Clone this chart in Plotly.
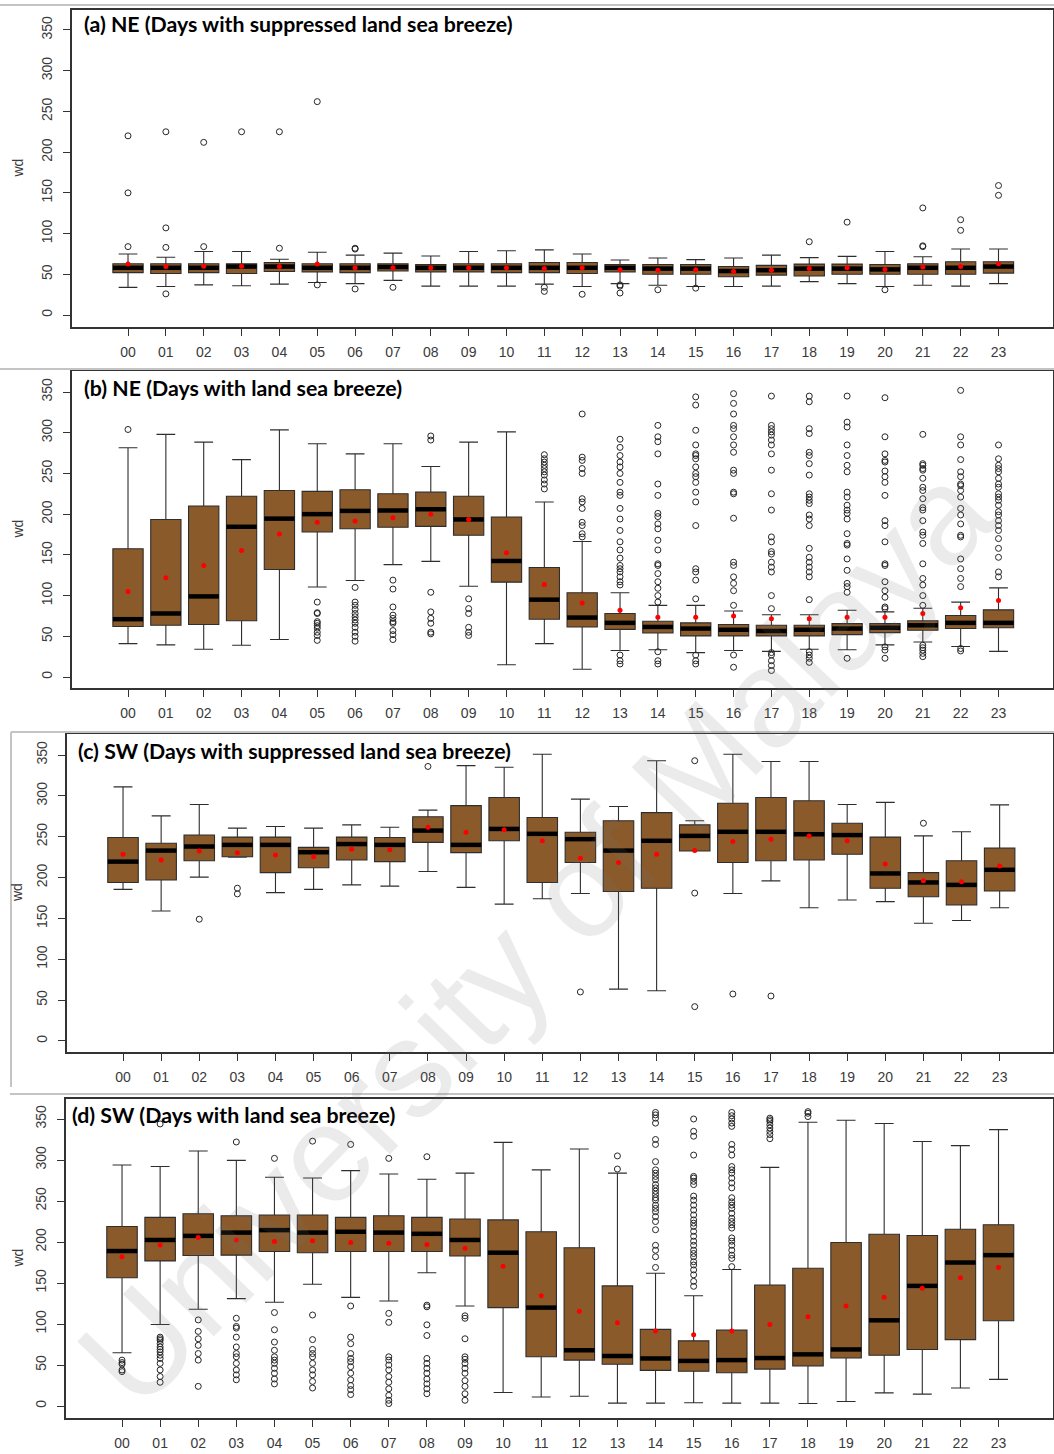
import plotly.graph_objects as go

HOURS = [f"{h:02d}" for h in range(24)]
POS = list(range(24))

# ---------------- (a) NE, suppressed land sea breeze ----------------
a_q1 = [52, 51, 52, 51, 53.5, 53, 52, 54, 53, 53, 52, 52, 51, 53, 50, 50, 47, 49, 48, 50, 50, 50, 50, 51.5]
a_med = [58, 58, 58, 59.5, 59.5, 58, 58, 59, 58, 58, 58, 58, 58, 58, 57, 57, 54, 55, 57, 57, 56, 58, 58, 59.5]
a_q3 = [63, 63, 63, 63, 64.5, 63, 63, 63, 62, 63, 63, 64.5, 64.5, 62, 62, 62, 59.5, 61, 62.5, 62.5, 62, 63, 65.5, 65.5]
a_lo = [34, 35, 37, 36, 38, 40, 38.5, 42.5, 35.5, 35.5, 35.5, 38, 35, 38.5, 36.5, 35, 35, 35.5, 41, 38.5, 35, 36.5, 35.5, 38.5]
a_hi = [75, 71, 78, 78, 68.5, 77, 73.5, 76, 72.5, 78, 79, 80, 75, 67.5, 70, 68, 70, 73.5, 70.5, 72, 78, 71.5, 81, 81]
a_mean = [62.5, 59.5, 60, 60, 59.5, 62.5, 58, 58, 58, 58, 58, 57, 58, 55.5, 55, 55.5, 53.5, 55, 57, 58, 56, 59, 59.5, 63]
a_out = [
    [220, 150, 84], [225, 107, 83, 26], [212, 84], [225], [225, 82], [262, 37],
    [82, 81, 32], [34], [], [], [], [34, 29], [25.5], [37, 35.5, 27], [31], [33],
    [], [], [90], [114], [31], [131.5, 85, 84], [117, 104], [159, 147],
]

# ---------------- (b) NE, land sea breeze ----------------
b_q1 = [62, 63.5, 64.5, 69, 132, 178, 182, 184, 185, 174, 116.5, 71, 61.5, 58.5, 54, 50.5, 50.5, 50.5, 50.5, 52, 54.5, 57.5, 59.5, 60.5]
b_med = [71, 78, 99, 184.5, 194.5, 200, 204, 204.5, 206, 193.5, 142.5, 95, 73, 66.5, 61.5, 59.5, 58, 56.5, 58, 59.5, 60.5, 63.5, 66.5, 66.5]
b_q3 = [157.5, 193.5, 210, 222, 229, 228, 230, 225, 227, 222, 196.5, 134.5, 103.5, 78, 68.5, 66.5, 64.5, 63.5, 63.5, 65.5, 65.5, 69, 75.5, 82.5]
b_lo = [41, 39.5, 34, 39, 46, 110.5, 118.5, 138, 142, 111.5, 15, 41, 9.5, 32.5, 33.5, 30, 32.5, 31.5, 34, 33.5, 39.5, 43, 37.5, 31.5]
b_hi = [281.5, 298, 288.5, 267, 303.5, 286.5, 274, 286.5, 258.5, 288.5, 301, 215, 166.5, 103.5, 88, 88, 81, 76.5, 76.5, 82, 80, 84.5, 92, 109.5]
b_mean = [105, 122, 137, 155.5, 175.5, 190, 191.5, 195.5, 200, 193.5, 152.5, 113.5, 91, 82, 73.5, 73.5, 75, 71.5, 71.5, 73.5, 73.5, 78, 85, 94]
b_out = [
    [304], [], [], [], [],
    [92, 79, 78, 68, 66, 63, 60, 55, 51, 45],
    [110, 92, 88, 83, 78, 74, 70, 66, 61, 55, 50, 44],
    [119, 108, 86, 76, 72, 68, 66, 57, 52, 46],
    [296, 291, 104, 80, 72, 66, 55, 53],
    [96, 84, 78, 61, 55, 51],
    [],
    [273, 268, 264, 260, 256, 252, 248, 242, 237, 231],
    [323, 270, 266, 256, 250, 219, 215, 207, 190, 186, 176, 172],
    [292, 282, 272, 264, 258, 250, 239, 227, 223, 207, 194, 180, 166, 156, 146, 137, 133, 129, 123, 117, 113, 27, 20, 16],
    [309, 295, 289, 274, 237, 223, 201, 197, 188, 182, 168, 156, 139, 137, 127, 117, 109, 100, 92, 31, 20, 16],
    [344, 334, 303, 285, 274, 272, 268, 258, 250, 246, 239, 227, 215, 186, 133, 129, 119, 96, 27, 20, 16],
    [348, 336, 323, 309, 305, 295, 285, 276, 254, 250, 227, 225, 195, 141, 137, 123, 115, 106, 88, 27, 12],
    [345, 309, 305, 301, 297, 291, 285, 274, 254, 225, 205, 172, 166, 154, 151, 141, 135, 129, 100, 84, 30, 27, 20, 14, 8],
    [345, 338, 305, 299, 276, 272, 262, 248, 225, 221, 217, 213, 199, 194, 186, 158, 147, 141, 135, 129, 123, 95, 31, 27, 23, 18],
    [345, 313, 307, 285, 272, 260, 252, 227, 221, 211, 205, 201, 194, 176, 164, 162, 145, 131, 115, 111, 104, 23],
    [343, 295, 274, 266, 264, 253, 246, 239, 223, 192, 186, 166, 139, 137, 117, 106, 98, 86, 84, 37, 33, 23],
    [298, 262, 260, 256, 254, 244, 233, 229, 219, 208, 205, 192, 178, 174, 164, 139, 121, 113, 100, 88, 39, 36, 33, 29, 25],
    [352, 295, 285, 267, 252, 246, 237, 235, 229, 221, 207, 199, 188, 174, 172, 145, 133, 121, 111, 35, 32],
    [285, 268, 260, 256, 252, 244, 237, 233, 225, 221, 217, 211, 203, 199, 192, 186, 180, 170, 158, 147, 129, 123],
]

# ---------------- (c) SW, suppressed land sea breeze ----------------
c_q1 = [194, 197, 220.5, 225.5, 206, 212, 221.5, 219.5, 243, 230.5, 245, 194, 218.5, 183, 187, 232.5, 218.5, 220.5, 221.5, 228.5, 187, 176.5, 166.5, 183.5]
c_med = [219.5, 233, 238, 240, 240, 231, 241, 240, 257.5, 240, 259.5, 253.5, 247, 233, 245, 251, 256, 256, 253, 252, 205, 194, 191, 209.5]
c_q3 = [249, 242, 252, 249.5, 249.5, 237, 249.5, 249, 274.5, 288, 298, 273.5, 255.5, 269.5, 279.5, 264.5, 291, 298, 294, 266.5, 249.5, 206, 220.5, 236]
c_lo = [185.5, 159, 200.5, 225, 181.5, 185.5, 191, 189.5, 207.5, 188, 167.5, 174, 180.5, 63.5, 61.5, 232.5, 180.5, 196, 163, 172.5, 170.5, 144, 147.5, 163]
c_hi = [311, 275.5, 289.5, 260.5, 262.5, 260.5, 264.5, 261.5, 282.5, 337, 335, 351, 296, 287, 343, 269.5, 351, 342, 342, 289.5, 292, 251, 256, 289]
c_mean = [228.5, 221.5, 232.5, 230.5, 227.5, 225.5, 234.5, 234, 261.5, 255.5, 258.5, 245, 223.5, 218.5, 228.5, 233, 244, 247, 251, 245, 216.5, 196, 195, 214]
c_out = [
    [], [], [149], [187, 180], [], [], [], [], [336], [], [], [], [60], [], [],
    [343, 181, 42], [57.5], [55], [], [], [], [266.5], [], [],
]

# ---------------- (d) SW, land sea breeze ----------------
d_q1 = [156.5, 177, 183.5, 184, 188.5, 187, 188.5, 188.5, 188.5, 183, 120, 60, 56, 51, 43.5, 42.5, 40.5, 45, 49, 58.5, 62, 69, 81, 104]
d_med = [189, 202.5, 207.5, 211.5, 214.5, 211.5, 212.5, 211.5, 210, 202.5, 187, 120, 68, 61, 58, 55, 56, 58.5, 63, 69, 104.5, 146.5, 175, 184]
d_q3 = [219, 230, 234.5, 232, 233, 233, 230, 232, 230, 228, 227, 212.5, 193, 146.5, 93.5, 79.5, 92.5, 147.5, 168, 199.5, 209.5, 208, 215.5, 221]
d_lo = [65, 99.5, 118, 131, 126.5, 148.5, 132.5, 128, 162.5, 122, 16.5, 11, 12, 3.5, 3.5, 4, 3.5, 3.5, 3, 5.5, 16, 14.5, 22, 32.5]
d_hi = [294, 292, 311, 299.5, 279, 278, 287, 283, 276.5, 284, 321.5, 288, 313.5, 284, 162, 134.5, 166.5, 291, 346, 348.5, 344.5, 322.5, 317.5, 337]
d_mean = [182, 196.5, 205.5, 202.5, 200.5, 201.5, 199.5, 198.5, 197, 192.5, 170.5, 134.5, 115.5, 101.5, 91.5, 87, 91.5, 99.5, 109, 122, 132.5, 143.5, 156.5, 169]
d_out = [
    [56, 53, 51, 44, 42],
    [344, 84, 82, 80, 76, 72, 69, 66, 62, 58, 52, 44, 36, 29],
    [105, 91, 82, 74, 64, 56, 24],
    [322, 107, 97, 95, 84, 72, 64, 60, 52, 44, 38, 32],
    [302, 114, 93, 78, 68, 60, 56, 52, 46, 40, 33, 27],
    [323, 111, 81, 69, 64, 60, 52, 44, 38, 30, 22],
    [319, 122, 84, 76, 64, 58, 54, 48, 40, 32, 25, 20, 14],
    [302, 113, 102, 60, 56, 50, 44, 36, 29, 21, 13, 7, 3],
    [304, 123, 121, 99, 86, 58, 52, 46, 40, 33, 27, 21, 15],
    [110, 107, 82, 60, 57, 52, 46, 40, 31, 24, 15, 7],
    [], [], [], [305, 289],
    [358, 355, 351, 345, 325, 319, 298, 288, 284, 280, 276, 270, 266, 262, 258, 254, 251, 245, 241, 237, 231, 225, 215, 196, 190, 182, 169],
    [350, 335, 329, 306, 280, 278, 274, 270, 256, 251, 245, 239, 233, 227, 223, 219, 213, 207, 201, 196, 190, 186, 182, 176, 172, 166, 160, 152, 146],
    [358, 354, 350, 345, 341, 319, 313, 306, 292, 288, 284, 278, 272, 266, 254, 249, 245, 241, 235, 229, 225, 221, 217, 205, 201, 196, 190, 184, 180, 170],
    [351, 349, 347, 343, 339, 335, 331, 326],
    [359, 357, 353],
    [], [], [], [], [],
]

TITLES = [
    "(a) NE (Days with suppressed land sea breeze)",
    "(b) NE (Days with land sea breeze)",
    "(c) SW (Days with suppressed land sea breeze)",
    "(d) SW (Days with land sea breeze)",
]
Y_TICKS = [0, 50, 100, 150, 200, 250, 300, 350]

panels = [
    (a_q1, a_med, a_q3, a_lo, a_hi, a_mean, a_out),
    (b_q1, b_med, b_q3, b_lo, b_hi, b_mean, b_out),
    (c_q1, c_med, c_q3, c_lo, c_hi, c_mean, c_out),
    (d_q1, d_med, d_q3, d_lo, d_hi, d_mean, d_out),
]

# page geometry (pixels)
W, H = 1054, 1454
# plot-box rectangles per panel: left, right, top, bottom
frames = [(72, 1053, 10, 327), (72, 1053, 371, 688), (67, 1053, 734, 1052), (66, 1053, 1099, 1418)]
x_ranges = [(-1.48, 24.44), (-1.48, 24.44), (-1.47, 24.40), (-1.47, 24.43)]
y_ranges = [(-14.7, 374.5), (-13.5, 375.8), (-13.5, 375.7), (-14.6, 374.4)]
title_pos = [(82, 24), (82, 388), (76, 751), (70, 1115)]

BROWN = "#8b5a2b"
EDGE = "#2e2e2e"
AXIS = "#333333"
BOX_W = 0.8

fig = go.Figure()
layout = {}
annotations = []

for k, (q1, med, q3, lo, hi, mean, out) in enumerate(panels):
    sfx = "" if k == 0 else str(k + 1)
    xa, ya = "x" + sfx, "y" + sfx

    fig.add_trace(go.Box(
        x=POS, q1=q1, median=med, q3=q3, lowerfence=lo, upperfence=hi,
        width=BOX_W, whiskerwidth=0.62, boxpoints=False,
        fillcolor=BROWN, line=dict(color=EDGE, width=1.1),
        hoverinfo="skip", showlegend=False, xaxis=xa, yaxis=ya,
    ))

    # thick median bars
    mx, my = [], []
    for p, m in zip(POS, med):
        mx += [p - BOX_W / 2, p + BOX_W / 2, None]
        my += [m, m, None]
    fig.add_trace(go.Scatter(
        x=mx, y=my, mode="lines", line=dict(color="black", width=4.5),
        hoverinfo="skip", showlegend=False, xaxis=xa, yaxis=ya,
    ))

    # outliers
    ox, oy = [], []
    for p, vals in zip(POS, out):
        ox += [p] * len(vals)
        oy += vals
    fig.add_trace(go.Scatter(
        x=ox, y=oy, mode="markers",
        marker=dict(symbol="circle-open", size=6, color="#262626", line=dict(width=1)),
        hoverinfo="skip", showlegend=False, xaxis=xa, yaxis=ya,
    ))

    # means
    fig.add_trace(go.Scatter(
        x=POS, y=mean, mode="markers",
        marker=dict(symbol="circle", size=5, color="#ff0000"),
        hoverinfo="skip", showlegend=False, xaxis=xa, yaxis=ya,
    ))

    left, right, top, bottom = frames[k]
    layout["xaxis" + sfx] = dict(
        domain=[left / W, right / W], anchor=ya, range=list(x_ranges[k]),
        tickmode="array", tickvals=POS, ticktext=HOURS,
        ticks="outside", ticklen=7, tickwidth=1.2, tickcolor=AXIS,
        showline=True, mirror=True, linecolor=AXIS, linewidth=1.6,
        showgrid=False, zeroline=False, ticklabelstandoff=4,
        tickfont=dict(family="Liberation Sans, Arial, sans-serif", size=14, color="#3a3a3a"),
    )
    layout["yaxis" + sfx] = dict(
        domain=[1 - bottom / H, 1 - top / H], anchor=xa, range=list(y_ranges[k]),
        tickmode="array", tickvals=Y_TICKS,
        ticks="outside", ticklen=7, tickwidth=1.2, tickcolor=AXIS, tickangle=-90,
        showline=True, mirror=True, linecolor=AXIS, linewidth=1.6,
        showgrid=False, zeroline=False, ticklabelstandoff=6,
        tickfont=dict(family="Liberation Sans, Arial, sans-serif", size=14, color="#3a3a3a"),
    )

    tx, ty = title_pos[k]
    annotations.append(dict(
        text="<b>" + TITLES[k] + "</b>", x=tx / W, y=1 - ty / H, xref="paper", yref="paper",
        xanchor="left", yanchor="middle", showarrow=False,
        font=dict(family="Lato, Open Sans, sans-serif", size=21.3, color="black"),
    ))
    annotations.append(dict(
        text="wd", x=17 / W, y=1 - (top + bottom) / 2 / H, xref="paper", yref="paper",
        xanchor="center", yanchor="middle", showarrow=False, textangle=-90,
        font=dict(family="Liberation Sans, Arial, sans-serif", size=14, color="#3a3a3a"),
    ))

# diagonal watermark
annotations.append(dict(
    text="University of Malaya", x=535 / W, y=1 - 935 / H, xref="paper", yref="paper",
    xanchor="center", yanchor="middle", showarrow=False, textangle=-46,
    font=dict(family="Liberation Sans, Arial, sans-serif", size=138, color="rgba(110,110,110,0.14)"),
))

# thin grey borders separating the four panels
SEP = dict(color="#c4c4c4", width=2)
shapes = [
    dict(type="line", xref="paper", yref="paper", x0=0, x1=1, y0=1 - 5 / H, y1=1 - 5 / H, line=SEP),
    dict(type="line", xref="paper", yref="paper", x0=0, x1=1, y0=1 - 369 / H, y1=1 - 369 / H, line=SEP),
    dict(type="line", xref="paper", yref="paper", x0=11 / W, x1=1, y0=1 - 732 / H, y1=1 - 732 / H, line=SEP),
    dict(type="line", xref="paper", yref="paper", x0=11 / W, x1=11 / W, y0=1 - 732 / H, y1=1 - 1087 / H, line=SEP),
    dict(type="line", xref="paper", yref="paper", x0=10 / W, x1=1, y0=1 - 1094 / H, y1=1 - 1094 / H, line=SEP),
]

fig.update_layout(
    width=W, height=H, margin=dict(l=0, r=0, t=0, b=0),
    paper_bgcolor="white", plot_bgcolor="white",
    showlegend=False, annotations=annotations, shapes=shapes,
    **layout,
)

fig.write_html("out.html")
